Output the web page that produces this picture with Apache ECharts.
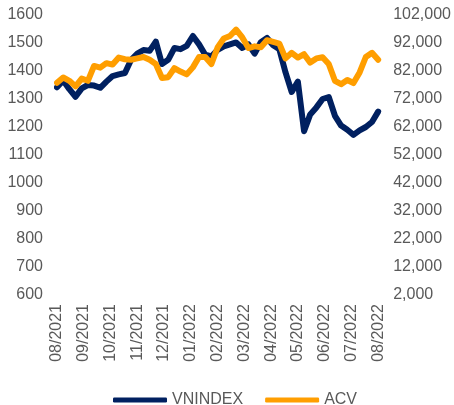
<!DOCTYPE html>
<html>
<head>
<meta charset="utf-8">
<script src="https://cdn.jsdelivr.net/npm/echarts@6/dist/echarts.min.js"></script>
<style>
  html, body { margin: 0; padding: 0; background: #fff; }
  #chart { width: 454px; height: 405px; }
</style>
</head>
<body>
<div id="chart"></div>
<script>
// month tick labels, 08/2021 .. 08/2022
const monthLabels = ['08/2021', '09/2021', '10/2021', '11/2021', '12/2021', '01/2022',
  '02/2022', '03/2022', '04/2022', '05/2022', '06/2022', '07/2022', '08/2022'];

// weekly closes
const vnindex = [1342, 1366, 1335, 1308, 1338, 1350, 1348, 1340, 1362, 1382,
  1388, 1393, 1440, 1462, 1475, 1472, 1505, 1425, 1440, 1482,
  1478, 1490, 1525, 1495, 1458, 1452, 1475, 1488, 1495, 1502,
  1482, 1495, 1462, 1503, 1518, 1492, 1478, 1395, 1325, 1362,
  1185, 1245, 1270, 1300, 1307, 1240, 1205, 1190, 1172, 1188,
  1200, 1218, 1255];

const acv = [77800, 79700, 78500, 76500, 79300, 78500, 83800, 83200, 84800, 84300,
  86800, 86200, 86000, 86500, 87000, 86000, 84500, 79500, 79800, 83000,
  81800, 80800, 83300, 87000, 87000, 84500, 90400, 93600, 94500, 96800,
  94000, 90200, 90800, 90500, 93000, 92400, 91800, 86500, 88500, 86800,
  88000, 85000, 86500, 86900, 84500, 78500, 77300, 78800, 77700, 81500,
  87000, 88500, 86000];

const leftTicks = { min: 600, max: 1600, step: 100 };
const rightTicks = { min: 2000, max: 102000, step: 10000 };

// spread the weeks evenly over the 12 months
const span = monthLabels.length - 1;
const toPoints = arr => arr.map((v, i) => [i * span / (arr.length - 1), v]);

const labelColor = '#595959';
const font = 'Liberation Sans, Arial, sans-serif';

let myChart = echarts.init(document.getElementById('chart'));
let option = {
  animation: false,
  color: ['#002060', '#FF9E00'],
  grid: { left: 57, right: 72, top: 15, bottom: 110 },
  legend: {
    top: 387,
    left: 108,
    icon: 'roundRect',
    itemWidth: 54,
    itemHeight: 5,
    itemGap: 22,
    textStyle: { color: labelColor, fontSize: 16, fontFamily: font },
    data: ['VNINDEX', 'ACV']
  },
  xAxis: {
    type: 'value',
    min: 0,
    max: span,
    interval: 1,
    axisLine: { show: false },
    axisTick: { show: false },
    splitLine: { show: false },
    axisLabel: {
      rotate: 90,
      margin: 9,
      color: labelColor,
      fontSize: 16,
      fontFamily: font,
      formatter: v => monthLabels[v] || ''
    }
  },
  yAxis: [
    {
      type: 'value',
      min: leftTicks.min,
      max: leftTicks.max,
      interval: leftTicks.step,
      axisLine: { show: false },
      axisTick: { show: false },
      splitLine: { show: false },
      axisLabel: {
        margin: 14,
        color: labelColor,
        fontSize: 16,
        fontFamily: font,
        formatter: v => String(v)
      }
    },
    {
      type: 'value',
      min: rightTicks.min,
      max: rightTicks.max,
      interval: rightTicks.step,
      axisLine: { show: false },
      axisTick: { show: false },
      splitLine: { show: false },
      axisLabel: {
        margin: 15,
        color: labelColor,
        fontSize: 16,
        fontFamily: font,
        formatter: v => v.toLocaleString('en-US')
      }
    }
  ],
  series: [
    {
      name: 'VNINDEX',
      type: 'line',
      yAxisIndex: 0,
      showSymbol: false,
      symbol: 'none',
      lineStyle: { width: 6, cap: 'round', join: 'round' },
      data: toPoints(vnindex)
    },
    {
      name: 'ACV',
      type: 'line',
      yAxisIndex: 1,
      showSymbol: false,
      symbol: 'none',
      lineStyle: { width: 6, cap: 'round', join: 'round' },
      data: toPoints(acv)
    }
  ]
};
myChart.setOption(option);
</script>
</body>
</html>
